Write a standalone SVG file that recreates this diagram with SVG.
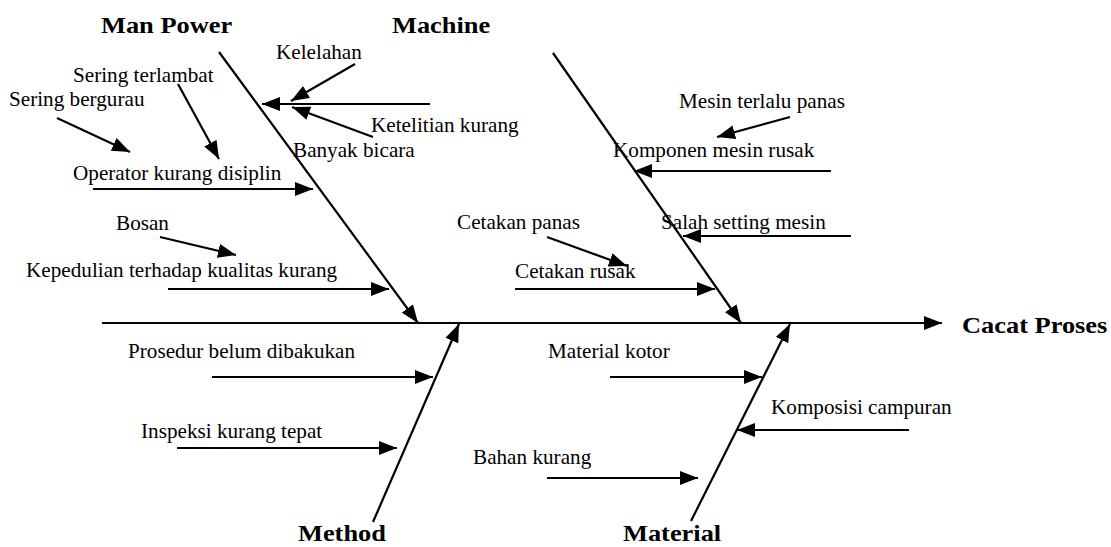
<svg xmlns="http://www.w3.org/2000/svg" width="1111" height="547" viewBox="0 0 1111 547">
<style>
.c{font-size:20px}
.h{font-size:24px;font-weight:bold}
.ln{stroke:#000;stroke-width:2.2;fill:none}
.a{marker-end:url(#ah)}
</style>
<defs>
<marker id="ah" viewBox="0 0 18 14" refX="18" refY="7" markerWidth="18" markerHeight="14" markerUnits="userSpaceOnUse" orient="auto">
<path d="M0,0 L18,7 L0,14 z" fill="#000"/>
</marker>
</defs>
<rect width="1111" height="547" fill="#fff"/>
<g id="connectors">
<line class="ln a" x1="102" y1="323" x2="942" y2="323"/>
<line class="ln a" x1="219" y1="52" x2="418" y2="323"/>
<line class="ln a" x1="553" y1="53" x2="741" y2="323"/>
<line class="ln a" x1="373" y1="522" x2="459" y2="324"/>
<line class="ln a" x1="691" y1="521" x2="790" y2="324"/>
<line class="ln a" x1="430" y1="104" x2="262" y2="104"/>
<line class="ln a" x1="355" y1="64" x2="291" y2="101"/>
<line class="ln a" x1="373" y1="137" x2="292" y2="107"/>
<line class="ln a" x1="57" y1="118" x2="130" y2="152"/>
<line class="ln a" x1="178" y1="84" x2="219" y2="159"/>
<line class="ln a" x1="93" y1="189" x2="313" y2="189"/>
<line class="ln a" x1="160" y1="237" x2="236" y2="255"/>
<line class="ln a" x1="168" y1="289" x2="389" y2="289"/>
<line class="ln a" x1="790" y1="117" x2="717" y2="137"/>
<line class="ln a" x1="831" y1="171" x2="634" y2="171"/>
<line class="ln a" x1="851" y1="236" x2="683" y2="236"/>
<line class="ln a" x1="547" y1="237" x2="627" y2="266"/>
<line class="ln a" x1="515" y1="289" x2="715" y2="289"/>
<line class="ln a" x1="212" y1="377" x2="433" y2="377"/>
<line class="ln a" x1="177" y1="448" x2="397" y2="448"/>
<line class="ln a" x1="610" y1="377" x2="762" y2="377"/>
<line class="ln a" x1="909" y1="430" x2="737" y2="430"/>
<line class="ln a" x1="547" y1="478" x2="698" y2="478"/>
</g>
<g font-family="Liberation Serif" fill="#000">
<g id="effect" transform="translate(962,333) scale(1.1,1)"><text class="h">Cacat Proses</text></g>
<g id="cat-manpower" transform="translate(101,33) scale(1.1,1)"><text class="h">Man Power</text></g>
<g id="cat-machine" transform="translate(392,33) scale(1.1,1)"><text class="h">Machine</text></g>
<g id="cat-method" transform="translate(298,541) scale(1.1,1)"><text class="h">Method</text></g>
<g id="cat-material" transform="translate(623,541) scale(1.1,1)"><text class="h">Material</text></g>
<g id="c-kelelahan" transform="translate(276,59) scale(1.06,1)"><text class="c">Kelelahan</text></g>
<g id="c-sering-terlambat" transform="translate(73,82) scale(1.06,1)"><text class="c">Sering terlambat</text></g>
<g id="c-sering-bergurau" transform="translate(9,106) scale(1.06,1)"><text class="c">Sering bergurau</text></g>
<g id="c-ketelitian" transform="translate(371,132) scale(1.06,1)"><text class="c">Ketelitian kurang</text></g>
<g id="c-banyak-bicara" transform="translate(293,157) scale(1.06,1)"><text class="c">Banyak bicara</text></g>
<g id="c-operator" transform="translate(73,180) scale(1.06,1)"><text class="c">Operator kurang disiplin</text></g>
<g id="c-bosan" transform="translate(116,230) scale(1.06,1)"><text class="c">Bosan</text></g>
<g id="c-kepedulian" transform="translate(26,277) scale(1.06,1)"><text class="c">Kepedulian terhadap kualitas kurang</text></g>
<g id="c-mesin-panas" transform="translate(679,108) scale(1.06,1)"><text class="c">Mesin terlalu panas</text></g>
<g id="c-komponen" transform="translate(613,157) scale(1.06,1)"><text class="c">Komponen mesin rusak</text></g>
<g id="c-cetakan-panas" transform="translate(457,229) scale(1.06,1)"><text class="c">Cetakan panas</text></g>
<g id="c-salah-setting" transform="translate(661,229) scale(1.06,1)"><text class="c">Salah setting mesin</text></g>
<g id="c-cetakan-rusak" transform="translate(515,278) scale(1.06,1)"><text class="c">Cetakan rusak</text></g>
<g id="c-prosedur" transform="translate(128,358) scale(1.06,1)"><text class="c">Prosedur belum dibakukan</text></g>
<g id="c-inspeksi" transform="translate(141,438) scale(1.06,1)"><text class="c">Inspeksi kurang tepat</text></g>
<g id="c-material-kotor" transform="translate(548,358) scale(1.06,1)"><text class="c">Material kotor</text></g>
<g id="c-komposisi" transform="translate(771,414) scale(1.06,1)"><text class="c">Komposisi campuran</text></g>
<g id="c-bahan" transform="translate(473,464) scale(1.06,1)"><text class="c">Bahan kurang</text></g>
</g>
</svg>
